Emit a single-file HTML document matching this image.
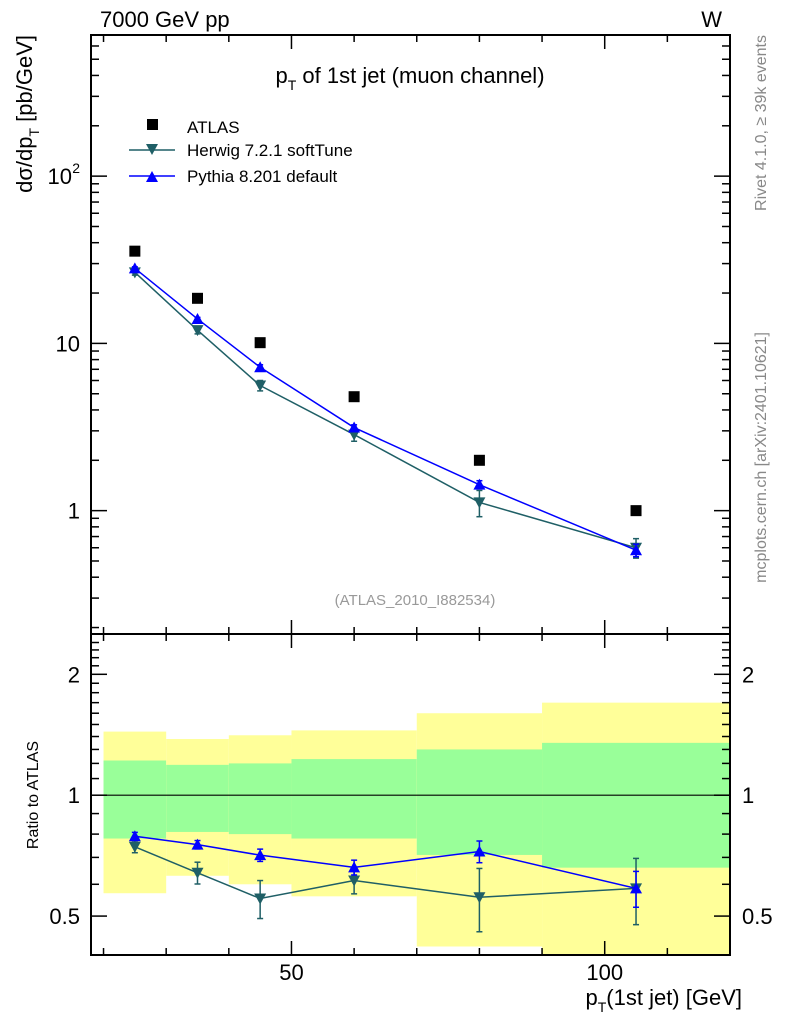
<!DOCTYPE html>
<html><head><meta charset="utf-8"><style>
body{margin:0;background:#fff}
svg{display:block;font-family:"Liberation Sans",sans-serif}
</style></head><body>
<svg id="c" width="786" height="1024" viewBox="0 0 786 1024"></svg>
<script>
const binLo=[20,30,40,50,70,90];
const binHi=[30,40,50,70,90,120];
const xCenters=[25,35,45,60,80,105];
const atlas=[35.6,18.6,10.1,4.8,2.0,1.0];
const herwig=[26.6,12.0,5.6,2.85,1.12,0.6];
const herwigErr=[1.0,0.6,0.4,0.25,0.2,0.08];
const pythia=[28.1,14.0,7.2,3.14,1.43,0.58];
const pythiaErr=[0.6,0.3,0.25,0.12,0.08,0.05];
const ratioH=[0.744,0.641,0.553,0.613,0.557,0.586];
const ratioHErr=[0.025,0.04,0.06,0.045,0.10,0.11];
const ratioP=[0.79,0.753,0.709,0.661,0.724,0.586];
const ratioPErr=[0.018,0.018,0.025,0.028,0.045,0.06];
const yelHi=[1.44,1.38,1.41,1.45,1.60,1.70];
const yelLo=[0.57,0.63,0.60,0.56,0.42,0.30];
const grnHi=[1.22,1.19,1.20,1.23,1.30,1.35];
const grnLo=[0.78,0.81,0.80,0.78,0.71,0.66];

const NS='http://www.w3.org/2000/svg';
const svg=document.getElementById('c');
function mk(t,a,p){const e=document.createElementNS(NS,t);for(const k in a)e.setAttribute(k,a[k]);(p||svg).appendChild(e);return e;}
const L=91,R=730,T=35,M=634,B=955;
const X=v=>L+(v-18)/(120-18)*(R-L);
const ymin=Math.log10(0.183),ymax=Math.log10(698);
const Y=v=>M-(Math.log10(v)-ymin)/(ymax-ymin)*(M-T);
const rmin=Math.log10(0.4),rmax=Math.log10(2.52);
const RY=v=>B-(Math.log10(v)-rmin)/(rmax-rmin)*(B-M);
const HC='#1f5f66',PC='#0000ff';

const bands=mk('g',{});
for(let i=0;i<binLo.length;i++){
  const lo=Math.max(yelLo[i],0.4);
  const r1=mk('rect',{x:X(binLo[i]),y:RY(yelHi[i]),width:X(binHi[i])-X(binLo[i]),height:RY(lo)-RY(yelHi[i]),fill:'#ffff99'},bands);
  
  const r2=mk('rect',{x:X(binLo[i]),y:RY(grnHi[i]),width:X(binHi[i])-X(binLo[i]),height:RY(grnLo[i])-RY(grnHi[i]),fill:'#99ff99'},bands);
  
}
mk('line',{x1:L,x2:R,y1:RY(1),y2:RY(1),stroke:'#000','stroke-width':1.2});

mk('rect',{x:L,y:T,width:R-L,height:M-T,fill:'none',stroke:'#000','stroke-width':2});
mk('rect',{x:L,y:M,width:R-L,height:B-M,fill:'none',stroke:'#000','stroke-width':2});

for(let v=20;v<=120;v+=10){const maj=(v%50==0);const len=maj?14:7;
  for(const [yb,dir] of [[T,1],[M,-1],[M,1],[B,-1]]) mk('line',{x1:X(v),x2:X(v),y1:yb,y2:yb+dir*len,stroke:'#000','stroke-width':1.5});
}
for(let d=-1;d<=2;d++){for(let m=1;m<=9;m++){const v=m*Math.pow(10,d);if(v<0.183||v>698)continue;const len=m==1?16:8;
  mk('line',{x1:L,x2:L+len,y1:Y(v),y2:Y(v),stroke:'#000','stroke-width':1.5});
  mk('line',{x1:R,x2:R-len,y1:Y(v),y2:Y(v),stroke:'#000','stroke-width':1.5});}}
for(let v=0.4;v<=2.5;v+=0.1){const vv=Math.round(v*10)/10;const maj=(vv==0.5||vv==1||vv==2);const len=maj?16:8;
  mk('line',{x1:L,x2:L+len,y1:RY(vv),y2:RY(vv),stroke:'#000','stroke-width':1.5});
  mk('line',{x1:R,x2:R-len,y1:RY(vv),y2:RY(vv),stroke:'#000','stroke-width':1.5});}

function txt(s,a,name){const e=mk('text',a);e.textContent=s;return e;}
txt('1',{x:80,y:Y(1)+8,'font-size':22,'text-anchor':'end'},'y-tick-1');
txt('10',{x:80,y:Y(10)+8,'font-size':22,'text-anchor':'end'},'y-tick-10');
txt('10',{x:72,y:Y(100)+8,'font-size':22,'text-anchor':'end'},'y-tick-100');
txt('2',{x:80,y:Y(100)-3,'font-size':14,'text-anchor':'end'},'y-tick-100-exp');
for(const [v,s] of [[2,'2'],[1,'1'],[0.5,'0.5']]){
  txt(s,{x:80,y:RY(v)+8,'font-size':22,'text-anchor':'end'},'ratio-tick-left');
  txt(s,{x:742,y:RY(v)+8,'font-size':22},'ratio-tick-right');}
txt('50',{x:X(50),y:980,'font-size':22,'text-anchor':'middle'},'x-tick-50');
txt('100',{x:X(100),y:980,'font-size':22,'text-anchor':'middle'},'x-tick-100');
const xt=txt('',{x:742,y:1005,'font-size':22,'text-anchor':'end'},'x-axis-title');
xt.innerHTML='p<tspan font-size="14" dy="7">T</tspan><tspan dy="-7">(1st jet) [GeV]</tspan>';
txt('7000 GeV pp',{x:100,y:27,'font-size':22},'energy-label');
txt('W',{x:722,y:27,'font-size':22,'text-anchor':'end'},'process-label');
const tt=txt('',{x:410,y:83,'font-size':22,'text-anchor':'middle'},'plot-title');
tt.innerHTML='p<tspan font-size="14" dy="7">T</tspan><tspan dy="-7"> of 1st jet (muon channel)</tspan>';
const yt=txt('',{x:0,y:0,'font-size':22,'text-anchor':'end',transform:'translate(32,35) rotate(-90)'},'y-axis-title');
yt.innerHTML='dσ/dp<tspan font-size="14" dy="7">T</tspan><tspan dy="-7"> [pb/GeV]</tspan>';
txt('Ratio to ATLAS',{x:0,y:0,'font-size':16,'text-anchor':'middle',transform:'translate(38,795) rotate(-90)'},'ratio-axis-title');
txt('(ATLAS_2010_I882534)',{x:415,y:605,'font-size':15,fill:'#999','text-anchor':'middle'},'analysis-id');
txt('Rivet 4.1.0, ≥ 39k events',{x:0,y:0,'font-size':16,fill:'#888','text-anchor':'end',transform:'translate(766,35) rotate(-90)'},'rivet-label');
txt('mcplots.cern.ch [arXiv:2401.10621]',{x:0,y:0,'font-size':16,fill:'#888','text-anchor':'end',transform:'translate(766,332) rotate(-90)'},'mcplots-label');

const lg=mk('g',{});
mk('rect',{x:147,y:119,width:11,height:11,fill:'#000'},lg);
txt('ATLAS',{x:187,y:133,'font-size':17},'legend-atlas');
mk('line',{x1:129,x2:175,y1:150,y2:150,stroke:HC,'stroke-width':1.5},lg);
mk('path',{d:'M146,144 L158,144 L152,155 Z',fill:HC},lg);
txt('Herwig 7.2.1 softTune',{x:187,y:156,'font-size':17},'legend-herwig');
mk('line',{x1:129,x2:175,y1:176,y2:176,stroke:PC,'stroke-width':1.5},lg);
mk('path',{d:'M146,182 L158,182 L152,171 Z',fill:PC},lg);
txt('Pythia 8.201 default',{x:187,y:182,'font-size':17},'legend-pythia');

function series(vals,errs,ys,col,down,name){
  const g=mk('g',{});
  mk('polyline',{points:xCenters.map((x,i)=>X(x)+','+ys(vals[i])).join(' '),fill:'none',stroke:col,'stroke-width':1.5},g);
  for(let i=0;i<vals.length;i++){const cx=X(xCenters[i]),cy=ys(vals[i]);
    const y1=ys(vals[i]+errs[i]),y2=ys(vals[i]-errs[i]);
    mk('line',{x1:cx,x2:cx,y1:y1,y2:y2,stroke:col,'stroke-width':1.5},g);
    mk('line',{x1:cx-3,x2:cx+3,y1:y1,y2:y1,stroke:col,'stroke-width':1.5},g);
    mk('line',{x1:cx-3,x2:cx+3,y1:y2,y2:y2,stroke:col,'stroke-width':1.5},g);
    const p=down?`M${cx-6},${cy-5} L${cx+6},${cy-5} L${cx},${cy+6} Z`:`M${cx-6},${cy+5} L${cx+6},${cy+5} L${cx},${cy-6} Z`;
    const m=mk('path',{d:p,fill:col},g);
    }
}
series(herwig,herwigErr,Y,HC,true,'herwig-series');
series(pythia,pythiaErr,Y,PC,false,'pythia-series');
series(ratioH,ratioHErr,RY,HC,true,'herwig-ratio');
series(ratioP,ratioPErr,RY,PC,false,'pythia-ratio');
for(let i=0;i<atlas.length;i++){
  const r=mk('rect',{x:X(xCenters[i])-5.5,y:Y(atlas[i])-5.5,width:11,height:11,fill:'#000'});
  }
</script>
</body></html>
